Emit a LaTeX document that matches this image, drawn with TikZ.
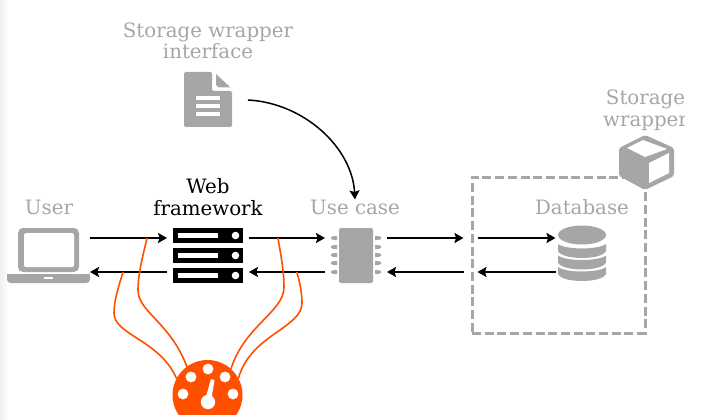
\documentclass[tikz,border=0pt]{standalone}
\usepackage{fontspec}
\setmainfont{DejaVu Serif}
\usetikzlibrary{arrows.meta}
\definecolor{soft}{HTML}{A6A6A6}
\definecolor{metric}{HTML}{FF5000}
\tikzset{
  slot/.style={inner sep=0pt, outer sep=0pt, minimum height=#1},
  caption/.style={text=soft, font=\fontsize{19.8}{21.5}\selectfont, align=center, inner sep=0pt},
  flow/.style={draw=black, line width=1.5pt, -{Stealth[length=9pt,width=10pt,inset=1.5pt]}},
  probe/.style={draw=metric, line width=1.6pt},
}
\begin{document}
\begin{tikzpicture}[x=1pt,y=-1pt]
\useasboundingbox (0,0) rectangle (713,420);
\shade[left color=black!6, right color=white] (0,0) rectangle (8,420);

%captions
\node[caption] (wrapifacetext) at (208,41) {Storage wrapper\\interface};
\node[caption] (usertext) at (49,207) {User};
\node[caption,text=black] (webtext) at (208,197) {Web\\framework};
\node[caption] (usecasetext) at (355,207) {Use case};
\node[caption] (dbtext) at (582,207) {Database};
\begin{scope}
\clip (590,80) rectangle (684,140);
\node[caption] (wraptext) at (645.5,110) {Storage\\wrapper};
\end{scope}

%empty nodes that hold the place of each icon
\node[slot=55pt, minimum width=83pt] (user) at (48.5,255) {};
\node[slot=55pt, minimum width=82pt] (web) at (208,255) {};
\node[slot=55pt, minimum width=62pt] (usecase) at (356,255) {};
\node[slot=55pt, minimum width=50pt] (db) at (580.5,255) {};
\node[slot=56pt, minimum width=64pt] (wrapiface) at (216,100) {};
\node[draw=soft, line width=3pt, dash pattern=on 9pt off 3.7pt, minimum width=173pt, minimum height=156pt, inner sep=0pt] (dbbox) at (558.5,255) {};

%laptop
\fill[soft, rounded corners=5pt] (18,228) rectangle (79,272);
\fill[white, rounded corners=1.5pt] (24,233) rectangle (74,267);
\fill[soft, rounded corners=3.5pt] (7,274) -- (90,274) -- (90,283) -- (7,283) -- cycle;
\fill[soft] (7,274) rectangle (90,278);
\fill[white] (44,277) rectangle (53,279);

%server
\foreach \y in {228,248,268}{
  \fill (173,\y) rectangle (243,\y+15);
  \fill[white] (178,\y+5) rectangle (218,\y+10);
  \fill[white] (235.5,\y+7.5) circle (3.8);
}

%chip
\fill[soft, rounded corners=2pt] (339,228) rectangle (373,283);
\foreach \y in {238,247,255,263,272}{
  \fill[soft] (331,\y-1) -- (334,\y-2) -- (337,\y-2) -- (337,\y+2) -- (334,\y+2) -- (331,\y+1) -- cycle;
  \fill[soft] (381,\y-1) -- (378,\y-2) -- (375,\y-2) -- (375,\y+2) -- (378,\y+2) -- (381,\y+1) -- cycle;
}

%database
\fill[soft] (582,235) ellipse (24 and 9.5);
\foreach \y in {244,255.5,267}{
  \fill[soft] (558,\y) .. controls (566,\y+6) and (598,\y+6) .. (606,\y)
    -- (606,\y+7) .. controls (602,\y+16.3) and (562,\y+16.3) .. (558,\y+7) -- cycle;
}

%document
\fill[soft, rounded corners=2pt] (184,72) -- (212,72) -- (212,91) -- (232,91) -- (232,127) -- (184,127) -- cycle;
\fill[soft] (216,74) -- (230.5,87.5) -- (219,87.5) -- (216,85) -- cycle;
\foreach \y in {97.7,105.7,113.7}
  \fill[white] (196,\y-2) rectangle (220,\y+2);

%cube
\fill[soft, rounded corners=2pt] (645,135) -- (674,148) -- (674,176) -- (645,190) -- (619,176) -- (619,148) -- cycle;
\fill[white] (627,148) -- (643,140) -- (667,149) -- (645,157) -- cycle;
\fill[white] (649,163) -- (669,153) -- (669,173) -- (649,183) -- cycle;

%arrows
\draw[flow] ([yshift=17pt]user.east) -- coordinate[pos=.74] (tapa) ([yshift=17pt]web.west);
\draw[flow] ([yshift=-17pt]web.west) -- coordinate[pos=.57] (tapb) ([yshift=-17pt]user.east);
\draw[flow] ([yshift=17pt]web.east) -- coordinate[pos=.38] (tapc) ([yshift=17pt]usecase.west);
\draw[flow] ([yshift=-17pt]usecase.west) -- coordinate[pos=.37] (tapd) ([yshift=-17pt]web.east);
\draw[flow] ([yshift=17pt]usecase.east) -- ([yshift=17pt,xshift=-7pt]dbbox.west);
\draw[flow] ([yshift=-17pt,xshift=-7pt]dbbox.west) -- ([yshift=-17pt]usecase.east);
\draw[flow] ([yshift=17pt,xshift=7pt]dbbox.west) -- ([yshift=17pt]db.west);
\draw[flow] ([yshift=-17pt]db.west) -- ([yshift=-17pt,xshift=7pt]dbbox.west);
\draw[flow] (wrapiface.east) .. controls +(56,3) and +(-3,-52) .. (usecasetext.north);

%gauge
\begin{scope}
\clip (160,350) rectangle (260,414);
\node[circle, fill=metric, minimum size=70pt, inner sep=0pt, outer sep=0pt] (gauge) at (207.5,395) {};
\end{scope}
\foreach \x/\y in {208/369,191/377,225/377,183/394,233/394}
  \fill[white] (\x,\y) circle (5.4);
\fill[white] (208,402) circle (7.2);
\fill[white] (205,400) -- (211,379) -- (214.5,380) -- (211,401) -- cycle;

%wires to the gauge
\draw[probe] (tapa) .. controls (144,252) and (138,272) .. (138,290) .. controls (138,312) and (170,322) .. (gauge.126);
\draw[probe] (tapb) .. controls (119,285) and (114,300) .. (114,313) .. controls (114,335) and (160,340) .. (gauge.152);
\draw[probe] (tapc) .. controls (281,255) and (284,272) .. (284,287) .. controls (284,312) and (245,325) .. (gauge.48);
\draw[probe] (tapd) .. controls (300,283) and (302,293) .. (302,303) .. controls (302,328) and (250,335) .. (gauge.28);
\end{tikzpicture}
\end{document}
